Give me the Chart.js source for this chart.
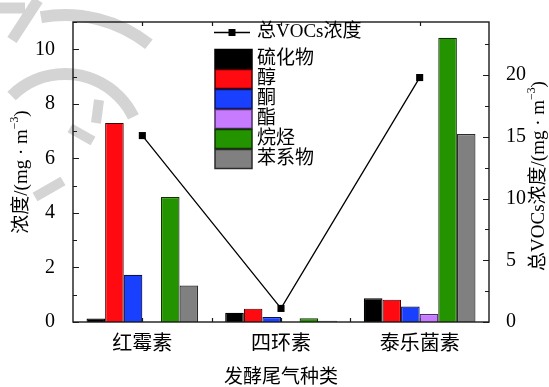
<!DOCTYPE html>
<html><head><meta charset="utf-8">
<script src="https://cdn.jsdelivr.net/npm/chart.js@4/dist/chart.umd.min.js"></script>
<style>html,body{margin:0;padding:0;background:#fff}canvas{display:block}</style>
</head><body>
<canvas id="c" width="549" height="387"></canvas>
<script>
// Exhaust-gas VOC composition by fermentation product
const categories = ['红霉素', '四环素', '泰乐菌素'];
const sulfides  = [0.13, 0.34, 0.87];
const alcohols  = [7.30, 0.49, 0.82];
const ketones   = [1.73, 0.18, 0.57];
const esters    = [0, 0, 0.29];
const alkanes   = [4.58, 0.14, 10.42];
const aromatics = [1.34, 0.05, 6.89];
const totalVOCs = [15.1, 1.1, 19.8];
const leftTicks  = [0, 2, 4, 6, 8, 10];
const rightTicks = [0, 5, 10, 15, 20];
const seriesNames = ['硫化物', '醇', '酮', '酯', '烷烃', '苯系物'];
const lineName = '总VOCs浓度';

const FONT = '"Liberation Serif", "Noto Sans CJK SC", serif';
const fills   = ['#000000', '#ff0a10', '#1a40ff', '#c77cff', '#239400', '#808080'];
const borders = ['#000000', '#4a0000', '#0a1450', '#4d2b66', '#0f3300', '#2b2b2b'];
const seriesData = [sulfides, alcohols, ketones, esters, alkanes, aromatics];

const barSets = seriesData.map((d, i) => ({
  type: 'bar',
  label: seriesNames[i],
  data: d,
  yAxisID: 'y',
  backgroundColor: fills[i],
  borderColor: borders[i],
  borderWidth: 1.2,
  categoryPercentage: 0.805,
  barPercentage: 1.0,
  order: 1
}));

const lineSet = {
  type: 'line',
  label: lineName,
  data: totalVOCs,
  yAxisID: 'y1',
  borderColor: '#000',
  borderWidth: 1.3,
  pointStyle: 'rect',
  pointRadius: 5,
  pointBackgroundColor: '#000',
  pointBorderColor: '#000',
  pointBorderWidth: 0,
  fill: false,
  tension: 0,
  order: 0
};

function drawRotatedTitle(ctx, cx, cy, parts, size) {
  ctx.save();
  ctx.translate(cx, cy);
  ctx.rotate(-Math.PI / 2);
  ctx.textBaseline = 'middle';
  ctx.textAlign = 'left';
  let total = 0;
  const widths = parts.map(p => {
    ctx.font = (p.sup ? size * 0.62 : size) + 'px ' + FONT;
    const w = ctx.measureText(p.t).width;
    total += w;
    return w;
  });
  let x = -total / 2;
  parts.forEach((p, i) => {
    ctx.font = (p.sup ? size * 0.62 : size) + 'px ' + FONT;
    ctx.fillStyle = '#000';
    ctx.fillText(p.t, x, p.sup ? -size * 0.38 : 0);
    x += widths[i];
  });
  ctx.restore();
}

const decor = {
  id: 'decor',
  beforeDraw(chart) {
    // faint background watermark strokes
    const ctx = chart.ctx;
    ctx.save();
    ctx.strokeStyle = '#d4d4d4';
    ctx.lineCap = 'butt';
    ctx.lineWidth = 12;
    ctx.beginPath();
    ctx.arc(65, 150, 76, -2.35, -0.45);
    ctx.stroke();
    ctx.beginPath();
    ctx.arc(65, 150, 135, -1.75, -0.9);
    ctx.stroke();
    ctx.lineWidth = 11;
    ctx.beginPath(); ctx.moveTo(38, 0); ctx.lineTo(12, 40); ctx.stroke();
    ctx.beginPath(); ctx.moveTo(0, 8); ctx.lineTo(25, 8); ctx.stroke();
    ctx.lineWidth = 10;
    ctx.beginPath(); ctx.moveTo(70, 128); ctx.lineTo(93, 141); ctx.stroke();
    ctx.beginPath(); ctx.moveTo(99, 100); ctx.lineTo(96, 123); ctx.stroke();
    ctx.beginPath(); ctx.moveTo(35, 197); ctx.lineTo(63, 181); ctx.stroke();
    ctx.restore();
  },
  beforeDatasetsDraw(chart) {
    const ctx = chart.ctx;
    const a = chart.chartArea;
    const x = chart.scales.x, y = chart.scales.y, y1 = chart.scales.y1;
    ctx.save();
    ctx.strokeStyle = '#1a1a1a';
    ctx.lineWidth = 1.2;
    ctx.beginPath();
    // left axis: major and minor inward ticks
    for (let v = 0; v <= 11; v++) {
      const py = Math.round(y.getPixelForValue(v)) + 0.5;
      const len = v % 2 === 0 ? 6 : 4;
      ctx.moveTo(a.left, py); ctx.lineTo(a.left + len, py);
    }
    // right axis
    for (let v = 0; v <= 24; v += 2.5) {
      const py = Math.round(y1.getPixelForValue(v)) + 0.5;
      const len = v % 5 === 0 ? 6 : 4;
      ctx.moveTo(a.right, py); ctx.lineTo(a.right - len, py);
    }
    // category axis: ticks at centres and boundaries, top and bottom
    const cw = (a.right - a.left) / categories.length;
    const xs = [];
    categories.forEach((c, i) => {
      const cx = x.getPixelForValue(i);
      xs.push(cx);
      if (i > 0) xs.push(cx - cw / 2);
    });
    xs.forEach(px => {
      const rx = Math.round(px) + 0.5;
      ctx.moveTo(rx, a.bottom); ctx.lineTo(rx, a.bottom - 4);
      ctx.moveTo(rx, a.top); ctx.lineTo(rx, a.top + 4);
    });
    ctx.stroke();
    ctx.restore();
  },
  afterDatasetsDraw(chart) {
    const ctx = chart.ctx;
    const a = chart.chartArea;
    ctx.save();
    ctx.strokeStyle = '#1a1a1a';
    ctx.lineWidth = 1.4;
    ctx.strokeRect(a.left, a.top, a.right - a.left, a.bottom - a.top);
    ctx.restore();
  },
  afterDraw(chart) {
    const ctx = chart.ctx;
    const a = chart.chartArea;
    ctx.save();
    // legend: total line entry
    ctx.strokeStyle = '#000';
    ctx.lineWidth = 1.3;
    ctx.beginPath(); ctx.moveTo(214, 32.5); ctx.lineTo(250, 32.5); ctx.stroke();
    ctx.fillStyle = '#000';
    ctx.fillRect(228.5, 29, 7, 7);
    ctx.font = '19px ' + FONT;
    ctx.textBaseline = 'middle';
    ctx.textAlign = 'left';
    ctx.fillText(lineName, 257, 32);
    // legend: bar series entries
    seriesNames.forEach((n, i) => {
      const top = 49.5 + i * 20;
      ctx.fillStyle = fills[i];
      ctx.fillRect(215, top, 37, 19);
      ctx.strokeStyle = borders[i];
      ctx.lineWidth = 1.5;
      ctx.strokeRect(215, top, 37, 19);
      ctx.fillStyle = '#000';
      ctx.fillText(n, 257, top + 9.5);
    });
    // axis titles
    const midY = (a.top + a.bottom) / 2;
    drawRotatedTitle(ctx, 22, midY, [
      { t: '浓度/(mg · m' }, { t: '−3', sup: true }, { t: ')' }
    ], 19);
    drawRotatedTitle(ctx, 539, midY + 4, [
      { t: '总VOCs浓度/(mg · m' }, { t: '−3', sup: true }, { t: ')' }
    ], 19);
    ctx.font = '19px ' + FONT;
    ctx.fillStyle = '#000';
    ctx.textAlign = 'center';
    ctx.textBaseline = 'middle';
    ctx.fillText('发酵尾气种类', (a.left + a.right) / 2, 378);
    ctx.restore();
  }
};

new Chart(document.getElementById('c'), {
  type: 'bar',
  data: { labels: categories, datasets: [...barSets, lineSet] },
  options: {
    responsive: false,
    animation: false,
    layout: { padding: { top: 14, left: 0, right: 0, bottom: 0 } },
    plugins: { legend: { display: false }, tooltip: { enabled: false } },
    scales: {
      x: {
        offset: true,
        grid: { display: false },
        border: { display: false },
        ticks: { color: '#000', font: { family: FONT, size: 20 }, padding: 3 },
        afterFit(s) { s.height = 65; }
      },
      y: {
        position: 'left',
        min: 0, max: 11,
        grid: { display: false },
        border: { display: false },
        ticks: { color: '#000', font: { family: FONT, size: 20 }, padding: 10 },
        afterBuildTicks(s) { s.ticks = leftTicks.map(v => ({ value: v })); },
        afterFit(s) { s.width = 73; }
      },
      y1: {
        position: 'right',
        min: 0, max: 24.3,
        grid: { display: false },
        border: { display: false },
        ticks: { color: '#000', font: { family: FONT, size: 20 }, padding: 9 },
        afterBuildTicks(s) { s.ticks = rightTicks.map(v => ({ value: v })); },
        afterFit(s) { s.width = 60; }
      }
    }
  },
  plugins: [decor]
});
</script>
</body></html>
